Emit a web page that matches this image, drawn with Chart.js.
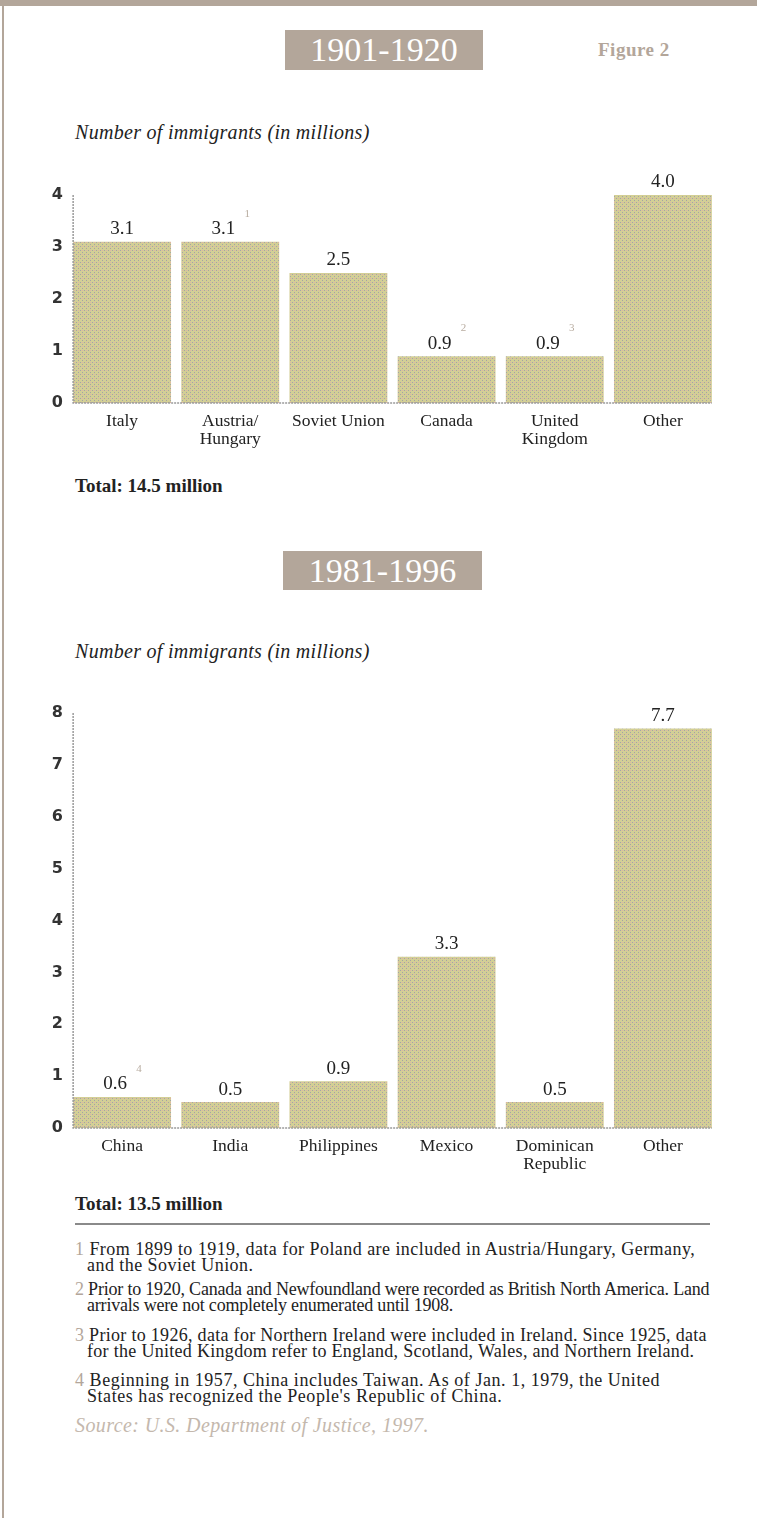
<!DOCTYPE html>
<html>
<head>
<meta charset="utf-8">
<script src="https://cdn.jsdelivr.net/npm/chart.js@4.4.1/dist/chart.umd.min.js"></script>
<style>
  body { margin: 0; background: #fff; }
  #page { position: relative; width: 757px; height: 1518px; overflow: hidden; font-family: 'Liberation Serif', serif; color: #222; }
  .band { position: absolute; left: 0; top: 0; width: 757px; height: 6px; background: #b3a69a; }
  .edge { position: absolute; left: 2px; top: 0; width: 2px; height: 1518px; background: #b3a69a; }
  .period { position: absolute; background: #b3a69a; color: #fff; font-size: 34px; text-align: center; }
  .fig { position: absolute; left: 598px; top: 39px; font-size: 19px; font-weight: bold; letter-spacing: 0.5px; color: #b3a69a; }
  .ytitle { position: absolute; left: 75px; font-size: 20px; line-height: 22px; letter-spacing: 0.3px; font-style: italic; }
  .total { position: absolute; left: 75px; font-size: 19px; line-height: 20px; font-weight: bold; }
  .rule { position: absolute; left: 75px; top: 1223px; width: 635px; height: 2px; background: #8a8a8a; }
  .note { position: absolute; left: 75px; font-size: 18px; line-height: 16px; letter-spacing: 0.3px; white-space: nowrap; }
  .note b { font-weight: normal; color: #b3a69a; }
  .note .l2 { padding-left: 12px; }
  .src { position: absolute; left: 75px; top: 1414px; font-size: 20px; line-height: 22px; letter-spacing: 0.4px; font-style: italic; color: #c4b8ad; }
  canvas { position: absolute; left: 0; }
</style>
</head>
<body>
<div id="page">
  <div class="band"></div>
  <div class="edge"></div>

  <div class="period" style="left:285px; top:30px; width:198px; height:40px; line-height:40px;">1901-1920</div>
  <div class="fig">Figure 2</div>
  <div class="ytitle" style="top:121px;">Number of immigrants (in millions)</div>
  <canvas id="chart1" width="757" height="300" style="top:170px;"></canvas>
  <div class="total" style="top:476px;">Total: 14.5 million</div>

  <div class="period" style="left:283px; top:551px; width:199px; height:39px; line-height:39px;">1981-1996</div>
  <div class="ytitle" style="top:640px;">Number of immigrants (in millions)</div>
  <canvas id="chart2" width="757" height="500" style="top:690px;"></canvas>
  <div class="total" style="top:1194px;">Total: 13.5 million</div>
  <div class="rule"></div>

  <div class="note" style="top:1241px; letter-spacing:0.45px;"><b>1</b> From 1899 to 1919, data for Poland are included in Austria/Hungary, Germany,<br><span class="l2">and the Soviet Union.</span></div>
  <div class="note" style="top:1281px; letter-spacing:-0.2px;"><b>2</b> Prior to 1920, Canada and Newfoundland were recorded as British North America. Land<br><span class="l2">arrivals were not completely enumerated until 1908.</span></div>
  <div class="note" style="top:1327px;"><b>3</b> Prior to 1926, data for Northern Ireland were included in Ireland. Since 1925, data<br><span class="l2">for the United Kingdom refer to England, Scotland, Wales, and Northern Ireland.</span></div>
  <div class="note" style="top:1372px; letter-spacing:0.55px;"><b>4</b> Beginning in 1957, China includes Taiwan. As of  Jan. 1, 1979, the United<br><span class="l2">States has recognized the People's Republic of China.</span></div>
  <div class="src">Source: U.S. Department of Justice, 1997.</div>
</div>

<script>
// 1901-1920
const countries1 = ["Italy", ["Austria/", "Hungary"], "Soviet Union", "Canada", ["United", "Kingdom"], "Other"];
const immigrants1 = [3.1, 3.1, 2.5, 0.9, 0.9, 4.0];
const notes1 = ["", "1", "", "2", "3", ""];
const yMax1 = 4;

// 1981-1996
const countries2 = ["China", "India", "Philippines", "Mexico", ["Dominican", "Republic"], "Other"];
const immigrants2 = [0.6, 0.5, 0.9, 3.3, 0.5, 7.7];
const notes2 = ["4", "", "", "", "", ""];
const yMax2 = 8;

Chart.defaults.font.family = "'Liberation Serif', serif";
Chart.defaults.color = "#222";

// dotted khaki fill like the original halftone
function dotPattern() {
    const c = document.createElement("canvas");
    c.width = 4; c.height = 4;
    const g = c.getContext("2d");
    g.fillStyle = "#d3cf95";
    g.fillRect(0, 0, 4, 4);
    g.fillStyle = "#a4a4a4";
    g.fillRect(0, 0, 1, 1);
    g.fillRect(2, 2, 1, 1);
    g.fillStyle = "#dfb0a8";
    g.fillRect(2, 0, 1, 1);
    return g.createPattern(c, "repeat");
}

// value labels, footnote marks and the dotted axes
const barLabels = {
    id: "barLabels",
    afterDatasetsDraw(chart, args, opts) {
        const ctx = chart.ctx;
        const meta = chart.getDatasetMeta(0);
        const vals = chart.data.datasets[0].data;
        meta.data.forEach((bar, i) => {
            const note = opts.notes[i];
            ctx.save();
            ctx.textAlign = "center";
            ctx.textBaseline = "bottom";
            ctx.font = "19px 'Liberation Serif'";
            ctx.fillStyle = "#222";
            ctx.fillText(vals[i].toFixed(1), bar.x + (note ? -7 : 0), bar.y - 3);
            if (note) {
                ctx.font = "11px 'Liberation Serif'";
                ctx.fillStyle = "#b8aca0";
                ctx.textBaseline = "middle";
                ctx.fillText(note, bar.x + 17, bar.y - 28);
            }
            ctx.restore();
        });
        const first = meta.data[0];
        const last = meta.data[meta.data.length - 1];
        const x0 = first.x - first.width / 2;
        const x1 = last.x + last.width / 2;
        const area = chart.chartArea;
        ctx.save();
        ctx.strokeStyle = "#9a9a9a";
        ctx.lineWidth = 1.5;
        ctx.setLineDash([2, 1]);
        ctx.beginPath();
        ctx.moveTo(x0, area.top);
        ctx.lineTo(x0, area.bottom);
        ctx.lineTo(x1, area.bottom);
        ctx.stroke();
        ctx.restore();
    }
};

function makeChart(id, labels, values, notes, yMax, topPad, xHeight) {
    return new Chart(document.getElementById(id), {
        type: "bar",
        data: {
            labels: labels,
            datasets: [{
                data: values,
                backgroundColor: dotPattern(),
                borderWidth: 0,
                barPercentage: 0.905,
                categoryPercentage: 1
            }]
        },
        options: {
            responsive: false,
            animation: false,
            layout: { padding: { top: topPad, right: 40, left: 0, bottom: 0 } },
            plugins: {
                legend: { display: false },
                tooltip: { enabled: false },
                barLabels: { notes: notes }
            },
            scales: {
                x: {
                    grid: { display: false, drawTicks: false },
                    border: { display: false },
                    ticks: { font: { size: 17.5, lineHeight: 1.03 }, color: "#222", padding: 9, maxRotation: 0, autoSkip: false },
                    afterFit: (axis) => { axis.height = xHeight; }
                },
                y: {
                    min: 0,
                    max: yMax,
                    grid: { display: false, drawTicks: false },
                    border: { display: false },
                    ticks: {
                        stepSize: 1,
                        padding: 5,
                        color: "#333",
                        font: { family: "'DejaVu Sans'", size: 16, weight: "bold" }
                    },
                    afterFit: (axis) => { axis.width = 68; }
                }
            }
        },
        plugins: [barLabels]
    });
}

makeChart("chart1", countries1, immigrants1, notes1, yMax1, 25, 67);
makeChart("chart2", countries2, immigrants2, notes2, yMax2, 23, 62);
</script>
</body>
</html>
